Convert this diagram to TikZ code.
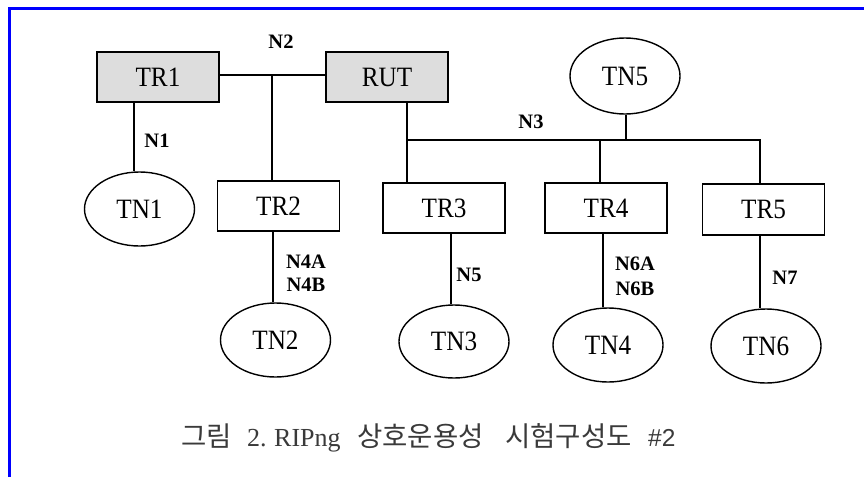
\documentclass[tikz,border=0pt]{standalone}
\usepackage{fontspec}
\setmainfont{Liberation Serif}
\newfontfamily\nodefont[FakeStretch=0.9]{Liberation Serif}
\newfontfamily\krfont{Noto Sans CJK KR}
\newfontfamily\numfont{Liberation Sans}
\usetikzlibrary{shapes.geometric}
\definecolor{routerfill}{HTML}{DDDDDD}
\definecolor{captiongray}{HTML}{3A3A3A}
\begin{document}
\begin{tikzpicture}[x=1pt,y=-1pt,
  link/.style={line width=1.6pt},
  router/.style={draw, line width=1.6pt, rectangle, minimum width=122pt, minimum height=50pt,
    inner sep=0pt, font=\nodefont\fontsize{28}{30}\selectfont},
  gate/.style={router, fill=routerfill},
  host/.style={draw, line width=1.4pt, ellipse, minimum width=110pt, minimum height=74pt,
    inner sep=0pt, font=\nodefont\fontsize{28}{30}\selectfont},
  netlabel/.style={inner sep=0pt, font=\bfseries\fontsize{20.5}{22}\selectfont},
  captionlatin/.style={anchor=base west, inner sep=0pt, text=captiongray,
    font=\fontsize{26}{28}\selectfont},
  captionkr/.style={anchor=base west, inner sep=0pt, text=captiongray,
    font=\krfont\fontsize{27.5}{30}\selectfont}]
\useasboundingbox (0,0) rectangle (864,477);
\fill[white] (0,0) rectangle (864,477);
% frame edges
\draw[blue, line width=3pt] (9.2,477) -- (9.2,8.6) -- (864,8.6);

% routers
\node[gate]   (TR1) at (158,77)    {TR1};
\node[gate]   (RUT) at (387,77)    {RUT};
\node[router] (TR2) at (278.5,206) {TR2};
\node[router] (TR3) at (444,208)   {TR3};
\node[router] (TR4) at (606,208)   {TR4};
\node[router, minimum height=51pt] (TR5) at (763.5,209.5) {TR5};

% hosts
\node[host] (TN1) at (139.5,209) {TN1};
\node[host, minimum height=76pt] (TN5) at (625,76) {TN5};
\node[host] (TN2) at (275.5,340) {TN2};
\node[host, minimum height=73pt] (TN3) at (454,341.5) {TN3};
\node[host] (TN4) at (608,345) {TN4};
\node[host] (TN6) at (766,346) {TN6};

% bus points
\coordinate (n2)  at (272,75);
\coordinate (n3L) at (407,140);
\coordinate (n3R) at (760,140);
\coordinate (n3M) at (600,140);

% network N2
\draw[link] (TR1.east |- n2) -- (RUT.west |- n2);
\draw[link] (n2) -- (TR2.north -| n2);
% network N3
\draw[link] (RUT.south -| n3L) -- (TR3.north -| n3L);
\draw[link] (n3L) -- (n3R) -- (TR5.north -| n3R);
\draw[link] (n3M) -- (TR4.north -| n3M);
\draw[link] (TN5.south -| 626,0) -- (n3L -| 626,0);
% stub networks
\draw[link] (TR1.south -| 134,0) -- (TN1.north -| 134,0);
\draw[link] (TR2.south -| 273,0) -- (TN2.north -| 273,0);
\draw[link] (TR3.south -| 451,0) -- (TN3.north -| 451,0);
\draw[link] (TR4.south -| 603,0) -- (TN4.north -| 603,0);
\draw[link] (TR5.south -| 760,0) -- (TN6.north -| 760,0);

% network labels
\node[netlabel] (lN2)  at (281,42)  {N2};
\node[netlabel] (lN1)  at (157,141) {N1};
\node[netlabel] (lN3)  at (531,122) {N3};
\node[netlabel] (lN4A) at (306,262) {N4A};
\node[netlabel] (lN4B) at (306,285) {N4B};
\node[netlabel] (lN5)  at (469,275) {N5};
\node[netlabel] (lN6A) at (635,264) {N6A};
\node[netlabel] (lN6B) at (635,289) {N6B};
\node[netlabel] (lN7)  at (785,278) {N7};

% caption
\node[captionkr]    (cap1) at (181,446.5) {그림};
\node[captionlatin] (cap2) at (247,446.5) {2.};
\node[captionlatin] (cap3) at (274,446.5) {RIPng};
\node[captionkr]    (cap4) at (357,446.5) {상호운용성};
\node[captionkr]    (cap5) at (505,446.5) {시험구성도};
\node[captionlatin, font=\numfont\fontsize{24.5}{28}\selectfont] (cap6) at (648,446.5) {\#2};
\end{tikzpicture}
\end{document}
